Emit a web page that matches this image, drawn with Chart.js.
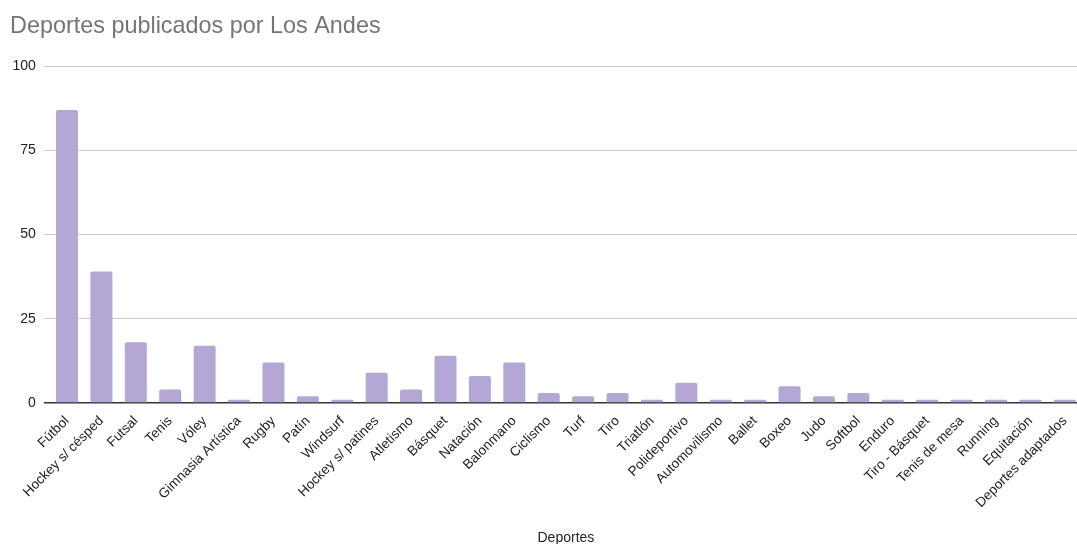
<!DOCTYPE html>
<html>
<head>
<meta charset="utf-8">
<script src="https://cdn.jsdelivr.net/npm/chart.js@4"></script>
<style>
html,body{margin:0;padding:0;background:#fff;overflow:hidden;}
#wrap{width:1082px;height:544px;}
</style>
</head>
<body>
<div id="wrap"><canvas id="c" width="1082" height="544"></canvas></div>
<script>
const chartTitle = "Deportes publicados por Los Andes";
const xAxisTitle = "Deportes";
const categories = ["Fútbol","Hockey s/ césped","Futsal","Tenis","Vóley","Gimnasia Artística","Rugby","Patín","Windsurf","Hockey s/ patines","Atletismo","Básquet","Natación","Balonmano","Ciclismo","Turf","Tiro","Triatlón","Polideportivo","Automovilismo","Ballet","Boxeo","Judo","Softbol","Enduro","Tiro - Básquet","Tenis de mesa","Running","Equitación","Deportes adaptados"];
const values = [87,39,18,4,17,1,12,2,1,9,4,14,8,12,3,2,3,1,6,1,1,5,2,3,1,1,1,1,1,1];
const yTicks = [0,25,50,75,100];

const FONT = "'Liberation Sans', Arial, sans-serif";

new Chart(document.getElementById('c'), {
  type: 'bar',
  data: {
    labels: categories,
    datasets: [{
      data: values,
      backgroundColor: '#b4a7d6',
      borderWidth: 0,
      borderRadius: {topLeft: 2, topRight: 2, bottomLeft: 0, bottomRight: 0},
      borderSkipped: 'start',
      categoryPercentage: 0.64,
      barPercentage: 1.0
    }]
  },
  options: {
    responsive: false,
    animation: false,
    layout: {padding: {left: 10, right: 0, top: 0, bottom: -3}},
    plugins: {
      legend: {display: false},
      tooltip: {enabled: false},
      title: {
        display: true,
        text: chartTitle,
        align: 'start',
        color: '#757575',
        font: {family: FONT, size: 23.4, weight: 'normal'},
        padding: {top: 13, bottom: 25}
      }
    },
    scales: {
      x: {
        grid: {display: false},
        border: {display: false},
        ticks: {
          color: '#222222',
          font: {family: FONT, size: 13.6},
          maxRotation: 45,
          minRotation: 45,
          autoSkip: false,
          padding: 2
        },
        title: {
          display: true,
          text: xAxisTitle,
          color: '#222222',
          font: {family: FONT, size: 14},
          padding: {top: 0, bottom: 0}
        },
        afterFit: (s) => { s.height = 144; }
      },
      y: {
        min: 0,
        max: 100,
        afterBuildTicks: (s) => { s.ticks = yTicks.map(v => ({value: v})); },
        border: {display: false},
        grid: {
          color: (ctx) => ctx.tick && ctx.tick.value === 0 ? '#333333' : '#cccccc',
          lineWidth: (ctx) => ctx.tick && ctx.tick.value === 0 ? 1.5 : 1,
          tickLength: 6,
          drawTicks: true
        },
        ticks: {
          color: '#222222',
          font: {family: FONT, size: 14},
          padding: 8
        },
        afterFit: (s) => { s.width = 39.8; }
      }
    }
  }
});
</script>
</body>
</html>
